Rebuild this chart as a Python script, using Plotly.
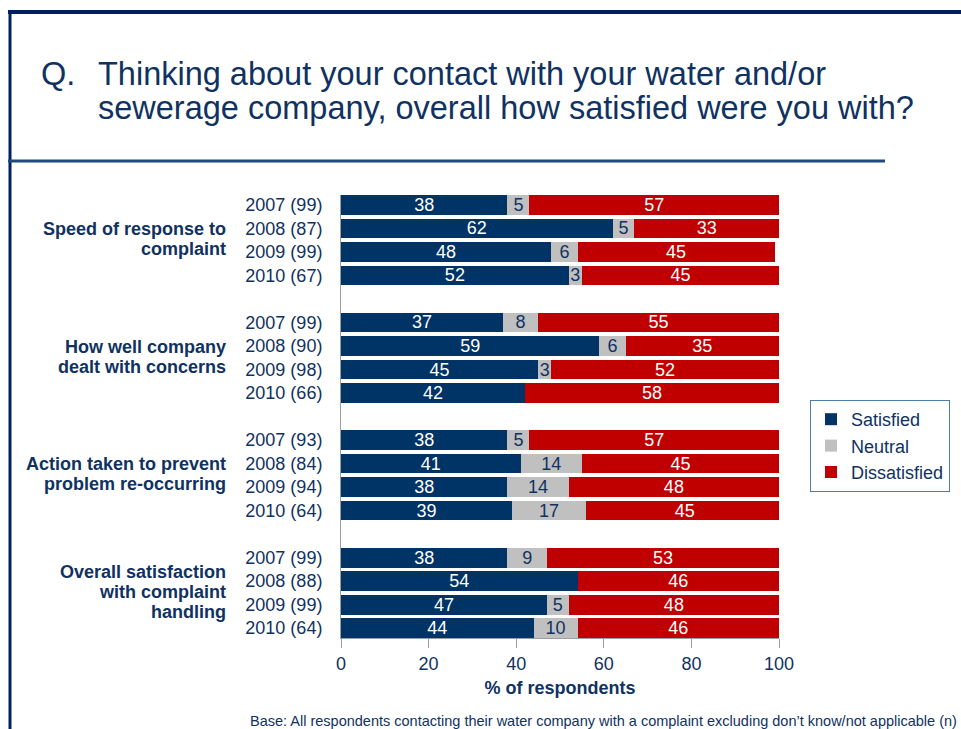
import plotly.graph_objects as go

groups = [["Speed of response to", "complaint"],
          ["How well company", "dealt with concerns"],
          ["Action taken to prevent", "problem re-occurring"],
          ["Overall satisfaction", "with complaint", "handling"]]
year_labels = [
    ["2007 (99)", "2008 (87)", "2009 (99)", "2010 (67)"],
    ["2007 (99)", "2008 (90)", "2009 (98)", "2010 (66)"],
    ["2007 (93)", "2008 (84)", "2009 (94)", "2010 (64)"],
    ["2007 (99)", "2008 (88)", "2009 (99)", "2010 (64)"],
]
satisfied = [38, 62, 48, 52, 37, 59, 45, 42, 38, 41, 38, 39, 38, 54, 47, 44]
neutral = [5, 5, 6, 3, 8, 6, 3, 0, 5, 14, 14, 17, 9, 0, 5, 10]
dissatisfied = [57, 33, 45, 45, 55, 35, 52, 58, 57, 45, 48, 45, 53, 46, 48, 46]
x_ticks = [0, 20, 40, 60, 80, 100]

NAVY = "#003366"
GREY = "#C0C0C0"
RED = "#C00000"
TXT = "#103262"
AXIS = "#9A9FA8"
FONT = "Liberation Sans, Arial, sans-serif"

W, H = 961, 729
ML, MR, MT, MB = 341, W - 779, 195, H - 638
PW, PH = W - ML - MR, H - MT - MB


def px(x):
    return (x - ML) / PW


def py(y):
    return 1 - (y - MT) / PH


ypos = []
ytext = []
for g in range(4):
    for r in range(4):
        ypos.append(g * 5 + r)
        ytext.append(year_labels[g][r])

fig = go.Figure()
series = [("Satisfied", satisfied, NAVY, "white"),
          ("Neutral", neutral, GREY, TXT),
          ("Dissatisfied", dissatisfied, RED, "white")]
for name, vals, col, tcol in series:
    fig.add_trace(go.Bar(
        name=name, orientation="h", x=vals, y=ypos,
        marker=dict(color=col, line=dict(width=0)),
        text=[str(v) if v > 0 else "" for v in vals],
        textposition="inside", insidetextanchor="middle", textangle=0,
        constraintext="none",
        textfont=dict(color=tcol, size=18, family=FONT),
        width=0.85, hoverinfo="x+name",
    ))

annotations = []
for g, lines in enumerate(groups):
    n = len(lines)
    for i, line in enumerate(lines):
        annotations.append(dict(
            text="<b>" + line + "</b>", x=px(228), xref="paper", xanchor="right",
            y=g * 5 + 1.45 + (i - (n - 1) / 2) * 0.85, yref="y", yanchor="middle",
            showarrow=False, align="right",
            font=dict(size=18, color=TXT, family=FONT)))

annotations.append(dict(text="Q.", x=px(39), xref="paper", xanchor="left",
                        y=py(74), yref="paper", yanchor="middle", showarrow=False,
                        font=dict(size=32.5, color=TXT, family=FONT)))
title_lines = ["Thinking about your contact with your water and/or",
               "sewerage company, overall how satisfied were you with?"]
for i, t in enumerate(title_lines):
    annotations.append(dict(
        text=t, x=px(96), xref="paper", xanchor="left", y=py(74 + 34 * i),
        yref="paper", yanchor="middle", showarrow=False, align="left",
        font=dict(size=32.5, color=TXT, family=FONT)))
annotations.append(dict(
    text="Base: All respondents contacting their water company with a complaint excluding don\u2019t know/not applicable (n)",
    x=px(959), xref="paper", xanchor="right", y=py(721), yref="paper",
    yanchor="middle", showarrow=False,
    font=dict(size=14.5, color=TXT, family=FONT)))

shapes = [
    dict(type="line", xref="paper", yref="paper", x0=px(8), x1=px(961),
         y0=py(12), y1=py(12), line=dict(color="#002060", width=4)),
    dict(type="line", xref="paper", yref="paper", x0=px(10), x1=px(10),
         y0=py(10), y1=py(729), line=dict(color="#002060", width=3)),
    dict(type="line", xref="paper", yref="paper", x0=px(8), x1=px(885),
         y0=py(161), y1=py(161), line=dict(color="#1F4A7A", width=3)),
]

fig.update_layout(
    width=W, height=H, barmode="stack", bargap=0.15,
    margin=dict(l=ML, r=MR, t=MT, b=MB, autoexpand=False),
    paper_bgcolor="white", plot_bgcolor="white",
    font=dict(family=FONT, color=TXT, size=18),
    showlegend=True,
    legend=dict(x=px(810), y=py(400), xanchor="left", yanchor="top",
                traceorder="normal", bordercolor="#4F7BA8", borderwidth=1,
                font=dict(size=18, color=TXT, family=FONT), bgcolor="white"),
    annotations=annotations, shapes=shapes,
)
fig.update_xaxes(range=[0, 100], tickvals=x_ticks, ticks="outside", ticklen=9,
                 tickcolor=AXIS, showline=True, linecolor=AXIS,
                 showgrid=False, zeroline=False,
                 tickfont=dict(size=18, color=TXT, family=FONT),
                 title=dict(text="<b>% of respondents</b>", standoff=8,
                            font=dict(size=18, color=TXT, family=FONT)))
fig.update_yaxes(range=[18.425, -0.425], tickvals=ypos, ticktext=ytext, ticks="",
                 showline=True, linecolor=AXIS, showgrid=False,
                 zeroline=False, ticklabelstandoff=14,
                 tickfont=dict(size=18, color=TXT, family=FONT))

fig.write_html("out.html", config={"displayModeBar": False},
               post_script="document.body.style.margin='0px';")
